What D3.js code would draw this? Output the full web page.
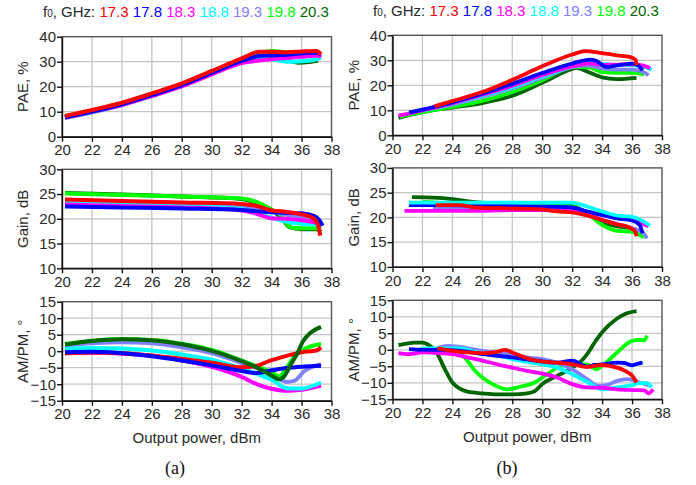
<!DOCTYPE html>
<html lang="en">
<head>
<meta charset="UTF-8">
<title>PAE, Gain and AM/PM vs output power</title>
<script src="https://d3js.org/d3.v7.min.js"></script>
<style>
  body { margin: 0; background: #fff; }
  svg { display: block; font-family: 'Liberation Sans', Arial, sans-serif; }
  .grid line { stroke: #c4c4c4; stroke-width: 1.3; }
  .axis path, .axis line { stroke: #111; stroke-width: 1.4; }
  .axis text { font-size: 15px; fill: #2a2a2a; }
  .frame { fill: none; stroke: #555; stroke-width: 1.4; }
  .title { font-size: 15px; fill: #2a2a2a; }
  .sub { font-family: 'Liberation Serif', 'Times New Roman', serif; font-size: 18px; fill: #111; }
  .curve { fill: none; stroke-linejoin: round; stroke-linecap: butt; }
</style>
</head>
<body>
<svg width="696" height="485"></svg>
<script>
// frequencies and colours, in legend order
const freqs = ['17.3', '17.8', '18.3', '18.8', '19.3', '19.8', '20.3'];
const colors = ['#ff0000', '#0000ff', '#ff00ff', '#00ffff', '#8080ff', '#00ff00', '#006400'];

const xTicks = [20, 22, 24, 26, 28, 30, 32, 34, 36, 38];
const paeTicks = [0, 10, 20, 30, 40];
const gainTicks = [10, 15, 20, 25, 30];
const ampmTicks = [-15, -10, -5, 0, 5, 10, 15];

// (a) PAE, % — one series per frequency, [Pout, value]
const paeA = [
  [[20.2,8.3],[22,10.7],[24,13.6],[26,17.3],[28,21.3],[30,26.3],[32,31.3],[33.2,34],[34,34],[35,33.8],[36,34.1],[37,34.3],[37.3,33]],
  [[20.2,7.8],[22,10.1],[24,13],[26,16.6],[28,20.6],[30,25.5],[32,30.3],[33.2,32.3],[34,32.5],[35,32.8],[36,33.3],[37,33.7],[37.3,33]],
  [[20.2,7.6],[22,9.9],[24,12.7],[26,16.2],[28,20.1],[30,24.9],[32,29.5],[33.2,30.5],[34,31],[35,31.5],[36,32],[37,32.5],[37.3,32]],
  [[20.2,7.5],[22,9.8],[24,12.7],[26,16.3],[28,20.3],[30,25.2],[32,30],[33.2,31.5],[34,31],[35,30],[36,30.2],[37,31],[37.3,31.5]],
  [[20.2,7.7],[22,10],[24,12.9],[26,16.5],[28,20.5],[30,25.3],[32,30.2],[33.2,31.8],[34,32],[35,32],[36,32.1],[37,32.3],[37.3,31.5]],
  [[20.2,8],[22,10.4],[24,13.3],[26,17],[28,21],[30,25.9],[32,30.8],[33.2,33.3],[34,34.3],[35,33.8],[36,33.4],[37,33.2],[37.3,32.5]],
  [[20.2,8],[22,10.4],[24,13.3],[26,17],[28,21],[30,25.9],[32,30.8],[33.2,33.3],[34,32.5],[35,30.5],[35.8,29.6],[36.5,29.9],[37.1,30.5]]
];
// (b) PAE, %
const paeB = [
  [[22.8,11.6],[24,13.7],[26,17.3],[28,22.2],[30,27.6],[32,32.3],[32.9,33.7],[34,32.9],[35,32],[35.9,31.3],[36.25,30],[36.3,28]],
  [[21.1,9.2],[22,10.3],[24,13.2],[26,16.6],[28,20.6],[30,24.9],[32,28.7],[33.2,30.3],[33.6,29.8],[34.3,27.3],[35,28],[36,28.7],[36.4,28],[36.7,26]],
  [[20.4,8],[21,8.6],[22,10],[24,12.8],[26,16.2],[28,19.8],[30,24],[32,27.6],[33.2,28.8],[34,28.2],[35,28.3],[36,28.4],[36.7,28],[37.2,26.8]],
  [[22,9.9],[24,12.6],[26,15.8],[28,19.2],[30,23.5],[32,27.5],[33.3,29.5],[34,28.5],[35,28.2],[36,28],[36.8,27.5],[37.3,26.2]],
  [[22.7,10.8],[24,12.3],[26,15.4],[28,18.8],[30,23],[32,27.3],[33,28],[34,26.8],[35,26.3],[36,26.3],[36.7,25.5],[37.1,24]],
  [[20.5,7.5],[22,9.3],[24,11.4],[26,13.8],[28,17.3],[30,22],[32,27.3],[33,27.3],[34,25.3],[35,25],[36,25],[36.8,24.4]],
  [[20.4,7],[22,9.3],[24,11.1],[26,12.9],[28,15.8],[30,21],[32,26.5],[32.3,27],[33,25.5],[34,23.2],[35,22.5],[36.3,23]]
];
// (a) Gain, dB
const gainA = [
  [[20.2,23.9],[24,23.6],[28,23.3],[32,23],[33,22.6],[34,21.7],[35,21.4],[36,20.9],[36.8,20.1],[37.1,18.7],[37.25,16.6]],
  [[20.2,22.5],[24,22.3],[28,22.1],[32,21.8],[33,21.5],[34,21.3],[36,21.1],[36.8,20.6],[37.2,19.7],[37.4,18.6]],
  [[20.2,22.9],[24,22.6],[28,22.3],[32,21.7],[33,21],[34,20.1],[35,20],[36,19.7],[37,19.2],[37.3,18.5]],
  [[20.2,23.2],[24,23],[28,22.6],[32,22],[33.5,20.7],[35,19.4],[36,19],[37,18.8],[37.3,18.5]],
  [[20.2,23.6],[24,23.4],[28,23.1],[32,22.6],[33,22.1],[34,21.4],[35,20.8],[36,20.4],[37,19.7],[37.3,19]],
  [[20.2,25.1],[24,24.8],[28,24.5],[32,24.1],[33,23.4],[33.9,22],[34.7,20.4],[35,19],[35.4,18.2],[36,18.1],[37,18.1],[37.3,17.9]],
  [[20.2,25.2],[24,24.9],[28,24.5],[32,24],[33,23.2],[34,21.8],[34.7,20],[35.2,18.3],[36,17.9],[37,17.9],[37.3,17.4]]
];
// (b) Gain, dB
const gainB = [
  [[22.9,22.5],[24.5,22.5],[25.5,22],[28,21.8],[30,21.6],[31,21.2],[32,21],[33,20.4],[34,19.5],[35,18.6],[35.8,18],[36.2,17.2],[36.3,16.2]],
  [[21.1,22.5],[26,22.4],[30,22.2],[32,22],[33,21.2],[34,20.5],[35,19.8],[36,19.4],[36.5,18.5],[36.7,16.8]],
  [[20.8,21.3],[26,21.3],[28,21.5],[30,21.5],[32,21.2],[34,20.5],[35.5,19.8],[36.5,19],[37.1,18.2]],
  [[21.1,23],[26,23],[32,23],[33,22.2],[34,21.2],[35,20.4],[36,20.1],[36.5,19.6],[37.2,18.3]],
  [[22.7,22],[26,22],[30,22],[32,21.5],[33,20.5],[34,19.5],[35,18.7],[36,17.8],[36.7,17],[37,15.8]],
  [[22,23.2],[26,22.5],[30,22.3],[32,22.2],[33,20.8],[34,18.5],[35,17.3],[36,17.1],[36.8,15.9]],
  [[21.3,24.1],[22.7,24],[24,23.7],[25.2,23.2],[28,22.6],[30,22.4],[32,22.3],[33,20.8],[33.5,19.8],[34,19],[35,18.2],[35.6,18],[36.3,17.5]]
];
// (a) AM/PM, degrees
const ampmA = [
  [[20.2,-0.6],[22,-0.4],[24,-0.6],[26,-1.3],[28,-2.3],[30,-3.5],[32,-4.9],[33,-4.4],[34,-2.7],[35,-1.4],[36,-0.3],[37,0.2],[37.3,1.2]],
  [[20.2,-0.3],[22,-0.2],[24,-0.6],[26,-1.5],[28,-2.8],[30,-4.3],[32,-6],[33,-6.6],[34,-5.8],[35,-5.1],[36,-4.7],[37.3,-4.4]],
  [[20.2,-0.6],[22,-0.5],[24,-0.7],[26,-1.4],[28,-2.8],[30,-4.7],[32,-7.8],[33,-10],[34,-11.4],[35,-12],[36,-11.7],[37.3,-10.4]],
  [[20.2,0.7],[22,1],[24,0.8],[26,0.2],[28,-1],[30,-2.6],[32,-5.3],[33,-6.9],[34,-8.6],[35,-11.2],[36,-11.3],[37.3,-9.5]],
  [[20.2,1.7],[22,2.4],[24,2.7],[26,2.4],[28,1.2],[30,-0.6],[32,-3.6],[34,-6.9],[35,-9.3],[35.5,-9],[36.2,-6],[37.3,-3.9]],
  [[20.2,2.2],[22,3.2],[24,3.7],[26,3.4],[28,2.3],[30,0.4],[32,-2.8],[33,-4.6],[34,-6.4],[34.5,-7.7],[35,-5],[35.5,-1.8],[36,0.2],[37.3,2.2]],
  [[20.2,2],[22,3.1],[24,3.6],[26,3.3],[28,2.1],[30,0.1],[32,-3],[33,-4.9],[34,-7.4],[34.5,-8.5],[34.8,-7.8],[35.3,-3.9],[35.7,-0.8],[36.1,3],[36.6,5.6],[37.3,7.4]]
];
// (b) AM/PM, degrees
const ampmB = [
  [[23,0.4],[24,-0.3],[25,-0.8],[26,-1],[27,-0.6],[27.5,0],[28,-0.8],[29,-2.6],[30,-3.6],[31,-3.9],[32,-4.4],[33,-5.2],[34,-4.6],[35,-5.4],[35.5,-6.3],[36,-7.8],[36.3,-9.9]],
  [[21.1,0.2],[22,0],[24,-0.1],[26,-1.3],[28,-2.3],[30,-3.5],[31,-3.9],[32,-3.3],[33,-5.1],[33.5,-4.6],[34,-4.4],[35,-3.9],[35.5,-4],[36,-4.7],[36.3,-4.3],[36.7,-3.9]],
  [[20.4,-1],[21,-1.3],[22,-0.8],[23,-1],[24,-1.3],[25,-2.3],[26,-3.3],[27,-4.4],[28,-5.4],[29,-6.4],[30,-7.2],[31,-8.4],[32,-10.4],[33,-11.4],[34,-11.5],[35,-12],[36,-12.2],[36.8,-12.3],[37.1,-13.2],[37.4,-12]],
  [[22,0.4],[23,0.4],[24.5,0.4],[25.5,-0.6],[27,-1.6],[28,-2.8],[30,-4.4],[31,-5.4],[32,-7.4],[33,-9.7],[34,-12],[35,-11.4],[36,-10.7],[36.5,-10.1],[37,-10.1],[37.3,-11.4]],
  [[23,0.5],[23.7,1.2],[24.5,0.9],[26,-0.3],[28,-1.3],[29,-2.3],[30,-2.8],[31,-3.9],[32,-5.9],[33,-8.9],[33.7,-10.9],[34.3,-10.7],[35,-9.4],[35.7,-8.9],[36.5,-9.9],[37.2,-10.9]],
  [[21.8,0.2],[24,0.4],[24.5,-0.8],[25,-3.3],[25.5,-6.3],[26,-8.4],[27,-11.1],[27.7,-12],[28.5,-11.2],[29,-10.7],[29.5,-9.9],[30,-8.4],[30.5,-6.9],[31,-5.4],[32,-4.4],[33,-4.4],[33.6,-5.9],[34,-4.9],[35,-0.8],[36,2.7],[36.5,3],[36.8,2.8],[37,4.3]],
  [[20.4,1.4],[21.5,2.2],[22,2.2],[22.5,1.2],[23,-1.3],[23.5,-5.9],[24,-9.9],[24.5,-11.8],[25,-12.7],[26,-13.2],[27,-13.5],[28,-13.5],[29,-13.2],[29.5,-12.5],[30,-10.4],[31,-7.9],[32,-5.4],[32.5,-3.9],[33,-1.3],[33.5,2.2],[34,5.3],[35,9.5],[35.5,10.8],[36.3,11.7]]
];

const svg = d3.select('svg');
const W = 696, H = 485;
svg.append('rect').attr('width', W).attr('height', H).attr('fill', '#fff');

// column and row placement
const cols = [
  { x0: 62, x1: 331.5, dy: 0, tag: '(a)', tagX: 175 },
  { x0: 392.5, x1: 662, dy: -1.4, tag: '(b)', tagX: 507 }
];
const rows = [
  { top: 36.7, bottom: 136.7, domain: [0, 40], ticks: paeTicks, label: 'PAE, %' },
  { top: 169.3, bottom: 268.3, domain: [10, 30], ticks: gainTicks, label: 'Gain, dB' },
  { top: 301.7, bottom: 400.7, domain: [-15, 15], ticks: ampmTicks, label: 'AM/PM, °' }
];
const panelData = [[paeA, paeB], [gainA, gainB], [ampmA, ampmB]];
// drawing order (index into freqs); last is on top
const orders = [
  [[6, 5, 4, 3, 2, 1, 0], [6, 5, 4, 3, 2, 1, 0]],
  [[6, 5, 4, 3, 2, 1, 0], [6, 5, 4, 2, 1, 3, 0]],
  [[4, 5, 2, 3, 0, 1, 6], [6, 5, 4, 3, 2, 1, 0]]
];

const line = d3.line().curve(d3.curveMonotoneX);

cols.forEach((c, ci) => {
  // legend
  const leg = svg.append('text').attr('class', 'title')
    .attr('x', ci === 0 ? 43 : 373).attr('y', 17 + c.dy);
  leg.append('tspan').text('f');
  leg.append('tspan').attr('font-size', 10).text('0');
  leg.append('tspan').text(', GHz:');
  freqs.forEach((f, i) => {
    leg.append('tspan').attr('fill', colors[i]).text(' ' + f);
  });

  rows.forEach((r, ri) => {
    const top = r.top + c.dy, bottom = r.bottom + c.dy;
    const x = d3.scaleLinear().domain([20, 38]).range([c.x0, c.x1]);
    const y = d3.scaleLinear().domain(r.domain).range([bottom, top]);
    const g = svg.append('g');

    // grid
    const grid = g.append('g').attr('class', 'grid');
    grid.selectAll('line.v').data(xTicks.slice(1, -1)).join('line').attr('class', 'v')
      .attr('x1', d => x(d)).attr('x2', d => x(d)).attr('y1', top).attr('y2', bottom);
    grid.selectAll('line.h').data(r.ticks.slice(1, -1)).join('line').attr('class', 'h')
      .attr('x1', c.x0).attr('x2', c.x1).attr('y1', d => y(d)).attr('y2', d => y(d));

    // curves
    const series = panelData[ri][ci];
    const clipId = `clip-${ri}-${ci}`;
    g.append('clipPath').attr('id', clipId).append('rect')
      .attr('x', c.x0).attr('y', top).attr('width', c.x1 - c.x0).attr('height', bottom - top);
    const cg = g.append('g').attr('clip-path', `url(#${clipId})`);
    orders[ri][ci].forEach(i => {
      cg.append('path').attr('class', 'curve')
        .attr('d', line(series[i].map(p => [x(p[0]), y(p[1])])))
        .attr('stroke', colors[i])
        .attr('stroke-width', ci === 0 ? 4 : 3.8);
    });

    // frame
    g.append('rect').attr('class', 'frame')
      .attr('x', c.x0).attr('y', top).attr('width', c.x1 - c.x0).attr('height', bottom - top);

    // axes
    g.append('g').attr('class', 'axis')
      .attr('transform', `translate(0,${bottom})`)
      .call(d3.axisBottom(x).tickValues(xTicks).tickSize(5).tickPadding(3).tickSizeOuter(0));
    g.append('g').attr('class', 'axis')
      .attr('transform', `translate(${c.x0},0)`)
      .call(d3.axisLeft(y).tickValues(r.ticks).tickSize(5).tickPadding(1).tickSizeOuter(0));

    // y title
    svg.append('text').attr('class', 'title')
      .attr('transform', `translate(${c.x0 - 34},${(top + bottom) / 2}) rotate(-90)`)
      .attr('text-anchor', 'middle')
      .text(r.label);
  });

  svg.append('text').attr('class', 'title')
    .attr('x', (c.x0 + c.x1) / 2).attr('y', 443 + c.dy)
    .attr('text-anchor', 'middle').text('Output power, dBm');
  svg.append('text').attr('class', 'sub')
    .attr('x', c.tagX).attr('y', 474)
    .attr('text-anchor', 'middle').text(c.tag);
});
</script>
</body>
</html>
